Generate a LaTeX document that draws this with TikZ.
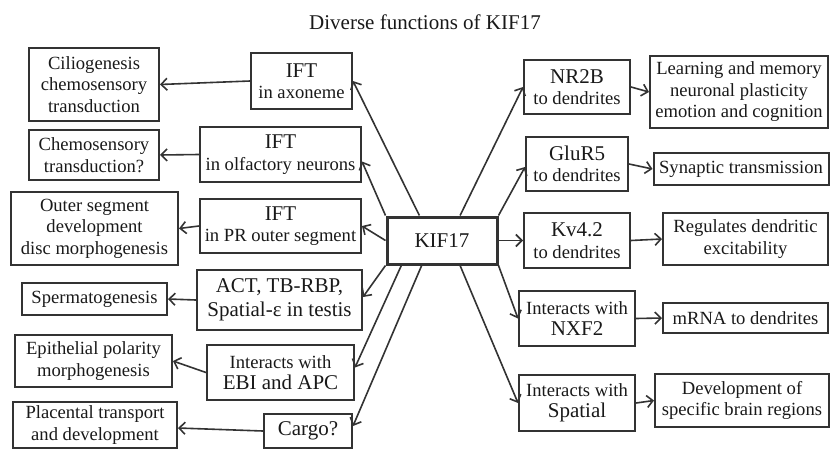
\documentclass[tikz,border=0pt]{standalone}
\usepackage{fontspec}
\setmainfont{Liberation Serif}
\usetikzlibrary{arrows.meta,calc}
\newcommand{\bigf}{\rmfamily\fontsize{21}{24}\selectfont}
\newcommand{\normf}{\rmfamily\fontsize{18.6}{21.5}\selectfont}
\begin{document}
\begin{tikzpicture}[x=1pt,y=-1pt,
 box/.style={draw=black!80, line width=2pt, align=center, inner sep=0pt, text=black!90, font=\normf},
 conn/.style={draw=black!80, line width=1.6pt, -{Straight Barb[length=6pt,width=12pt,line width=1.6pt]}},
]
\useasboundingbox (0,0) rectangle (830,450);

\node[text=black!90, font=\bigf, anchor=base] (title) at (425,29) {Diverse functions of KIF17};

% center
\node[box, line width=3pt, minimum width=110pt, minimum height=47pt, font=\bigf] (kif) at (442,240.5) {KIF17};

% left middle column
\node[box, minimum width=101pt, minimum height=56pt] (ax) at (301.5,81) {{\bigf IFT}\\in axoneme};
\node[box, minimum width=161pt, minimum height=55pt] (olf) at (280.5,154.5) {{\bigf IFT}\\in olfactory neurons};
\node[box, minimum width=161pt, minimum height=54pt] (pr) at (280.5,226) {{\bigf IFT}\\in PR outer segment};
\node[box, minimum width=165pt, minimum height=60pt, font=\bigf] (act) at (279.5,300) {ACT, TB-RBP,\\Spatial-ε in testis};
\node[box, minimum width=147pt, minimum height=55pt] (ebi) at (280.5,372.5) {Interacts with\\{\bigf EBI and APC}};
\node[box, minimum width=88pt, minimum height=34pt, font=\bigf] (cargo) at (308,431) {Cargo?};

% left column
\node[box, minimum width=130pt, minimum height=73pt] (cil) at (94,84.5) {Ciliogenesis\\chemosensory\\transduction};
\node[box, minimum width=130pt, minimum height=50pt] (chem) at (94,155) {Chemosensory\\transduction?};
\node[box, minimum width=167pt, minimum height=73pt] (outer) at (94.5,228.5) {Outer segment\\development\\disc morphogenesis};
\node[box, minimum width=145pt, minimum height=32pt] (sperm) at (94.5,299) {Spermatogenesis};
\node[box, minimum width=157pt, minimum height=52pt] (epi) at (93.5,361) {Epithelial polarity\\morphogenesis};
\node[box, minimum width=164pt, minimum height=46pt] (plac) at (95,425) {Placental transport\\and development};

% right middle column
\node[box, minimum width=106pt, minimum height=54pt] (nr) at (577,87) {{\bigf NR2B}\\to dendrites};
\node[box, minimum width=102pt, minimum height=54pt] (glu) at (577,164) {{\bigf GluR5}\\to dendrites};
\node[box, minimum width=106pt, minimum height=55pt] (kv) at (577,240.5) {{\bigf Kv4.2}\\to dendrites};
\node[box, minimum width=116pt, minimum height=55pt] (nxf) at (577,318.5) {Interacts with\\{\bigf NXF2}};
\node[box, minimum width=116pt, minimum height=56pt] (spa) at (577,403) {Interacts with\\{\bigf Spatial}};

% right column
\node[box, minimum width=178pt, minimum height=72pt] (learn) at (739,92) {Learning and memory\\neuronal plasticity\\emotion and cognition};
\node[box, minimum width=175pt, minimum height=32pt] (syn) at (741,169) {Synaptic transmission};
\node[box, minimum width=165pt, minimum height=52pt] (reg) at (745.5,239) {Regulates dendritic\\excitability};
\node[box, minimum width=165pt, minimum height=30pt] (mrna) at (745.5,318) {mRNA to dendrites};
\node[box, minimum width=174pt, minimum height=53pt] (dev) at (742,400.5) {Development of\\specific brain regions};

% connectors left
\draw[conn] (ax.west) -- (cil.east);
\draw[conn] (olf.west) -- (chem.east);
\draw[conn] (pr.west) -- (outer.east);
\draw[conn] (act.west) -- (sperm.east);
\draw[conn] (ebi.west) -- (epi.east);
\draw[conn] (cargo.west) -- ($(plac.east)+(0,3)$);

% KIF17 to left
\draw[conn] ($(kif.north west)!0.3!(kif.north east)$) -- (ax.east);
\draw[conn] (kif.north west) -- ($(olf.east)+(0,7)$);
\draw[conn] (kif.west) -- (pr.east);
\draw[conn] (kif.south west) -- ($(act.east)+(0,-3)$);
\draw[conn] ($(kif.south west)!0.14!(kif.south east)$) -- ($(ebi.east)+(0,-5)$);
\draw[conn] ($(kif.south west)!0.32!(kif.south east)$) -- ($(cargo.east)+(0,-5)$);

% KIF17 to right
\draw[conn] ($(kif.north west)!0.66!(kif.north east)$) -- (nr.west);
\draw[conn] (kif.north east) -- ($(glu.west)+(0,3)$);
\draw[conn] (kif.east) -- (kv.west);
\draw[conn] (kif.south east) -- (nxf.west);
\draw[conn] ($(kif.south west)!0.66!(kif.south east)$) -- (spa.west);

% right short arrows
\draw[conn] (nr.east) -- (learn.west);
\draw[conn] (glu.east) -- (syn.west);
\draw[conn] (kv.east) -- (reg.west);
\draw[conn] (nxf.east) -- (mrna.west);
\draw[conn] (spa.east) -- (dev.west);
\end{tikzpicture}
\end{document}
